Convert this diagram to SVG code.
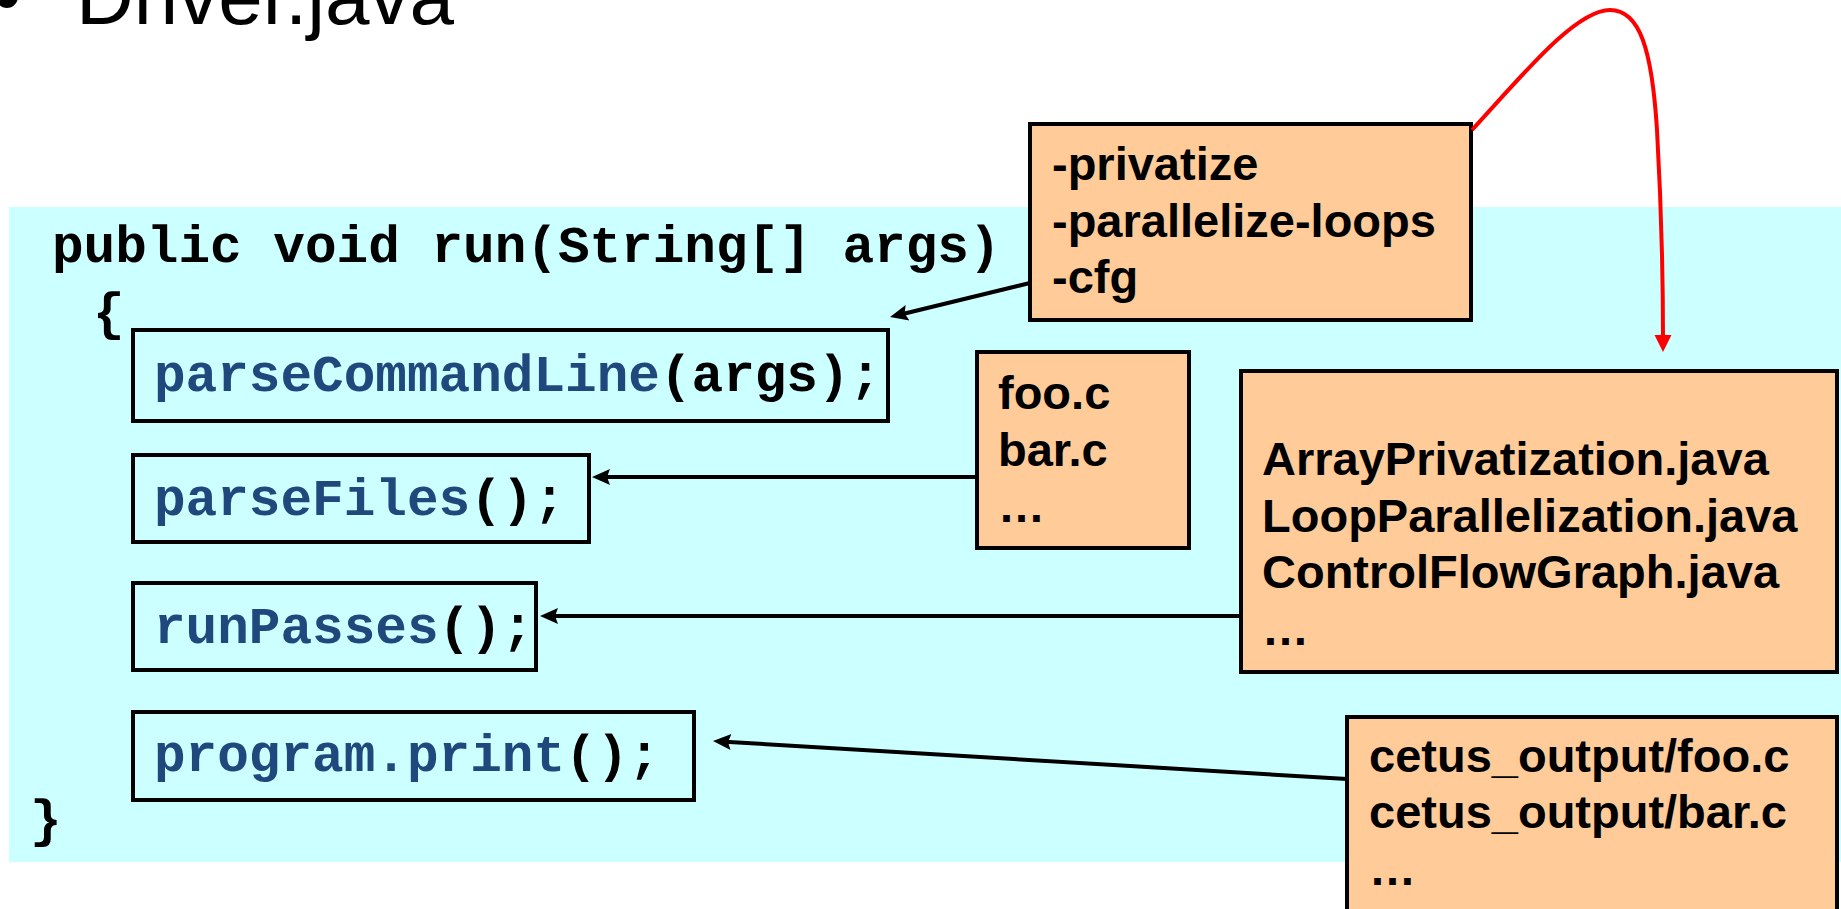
<svg xmlns="http://www.w3.org/2000/svg" width="1841" height="909" viewBox="0 0 1841 909">
<defs>
<style>
.code{font-family:"Liberation Mono","Courier New",monospace;font-weight:bold;font-size:52.7px;fill:#000}
.fn{fill:#1F497D}
.lbl{font-family:"Liberation Sans",Arial,sans-serif;font-weight:bold;font-size:47px;fill:#000}
.cbox{fill:none;stroke:#000;stroke-width:4}
.obox{fill:#FFCC99;stroke:#000;stroke-width:4}
.conn{fill:none;stroke:#000;stroke-width:4}
.red{fill:none;stroke:#FF0000;stroke-width:4}
</style>
<marker id="ah" markerUnits="userSpaceOnUse" markerWidth="20" markerHeight="20" viewBox="0 -10 20 20" refX="6" refY="0" orient="auto">
<path d="M0,-8 L18,0 L0,8 L3,0 Z" fill="#000"/>
</marker>
<marker id="ahr" markerUnits="userSpaceOnUse" markerWidth="20" markerHeight="20" viewBox="0 -10 20 20" refX="5" refY="0" orient="auto">
<path d="M0,-8.5 L17,0 L0,8.5 Z" fill="#FF0000"/>
</marker>
</defs>
<rect width="1841" height="909" fill="#fff"/>
<g id="title">
<text x="-7" y="24" font-family="Liberation Sans, Arial, sans-serif" font-size="80">•</text>
<text x="76" y="24" font-family="Liberation Sans, Arial, sans-serif" font-size="80">Driver.java</text>
</g>
<g id="run-method">
<rect x="9" y="207" width="1832" height="655" fill="#CCFFFF"/>
<text class="code" x="52" y="262">public void run(String[] args)</text>
<text class="code" x="93" y="329">{</text>
<text class="code" x="30" y="836">}</text>
</g>
<g id="parseCommandLine">
<rect class="cbox" x="133" y="330" width="755" height="91"/>
<text class="code" x="154" y="391"><tspan class="fn">parseCommandLine</tspan>(args);</text>
</g>
<g id="parseFiles">
<rect class="cbox" x="133" y="455" width="456" height="87"/>
<text class="code" x="154" y="515"><tspan class="fn">parseFiles</tspan>();</text>
</g>
<g id="runPasses">
<rect class="cbox" x="133" y="583" width="403" height="87"/>
<text class="code" x="154" y="643"><tspan class="fn">runPasses</tspan>();</text>
</g>
<g id="programPrint">
<rect class="cbox" x="133" y="712" width="561" height="88"/>
<text class="code" x="154" y="771"><tspan class="fn">program.print</tspan>();</text>
</g>
<g id="options">
<rect class="obox" x="1030" y="124" width="441" height="196"/>
<text class="lbl" x="1052" y="180">-privatize</text>
<text class="lbl" x="1052" y="237">-parallelize-loops</text>
<text class="lbl" x="1052" y="293">-cfg</text>
</g>
<g id="inputs">
<rect class="obox" x="977" y="352" width="212" height="196"/>
<text class="lbl" x="998" y="409">foo.c</text>
<text class="lbl" x="998" y="466">bar.c</text>
<text class="lbl" x="998" y="522">…</text>
</g>
<g id="passes">
<rect class="obox" x="1241" y="371" width="596" height="301"/>
<text class="lbl" x="1262" y="475">ArrayPrivatization.java</text>
<text class="lbl" x="1262" y="532">LoopParallelization.java</text>
<text class="lbl" x="1262" y="588">ControlFlowGraph.java</text>
<text class="lbl" x="1262" y="645">…</text>
</g>
<g id="outputs">
<rect class="obox" x="1347" y="717" width="490" height="230"/>
<text class="lbl" x="1369" y="772">cetus_output/foo.c</text>
<text class="lbl" x="1369" y="828">cetus_output/bar.c</text>
<text class="lbl" x="1369" y="885">…</text>
</g>
<g id="connectors">
<line class="conn" x1="1030" y1="283" x2="901.7" y2="314.2" marker-end="url(#ah)"/>
<line class="conn" x1="977" y1="477" x2="604" y2="477" marker-end="url(#ah)"/>
<line class="conn" x1="1241" y1="616" x2="552" y2="616" marker-end="url(#ah)"/>
<line class="conn" x1="1347" y1="779" x2="725" y2="741.7" marker-end="url(#ah)"/>
<path class="red" d="M1472,130 C1520,78 1575,10 1610,10 C1640,10 1652,50 1657,130 C1661,200 1663,280 1663,340" marker-end="url(#ahr)"/>
</g>
</svg>
